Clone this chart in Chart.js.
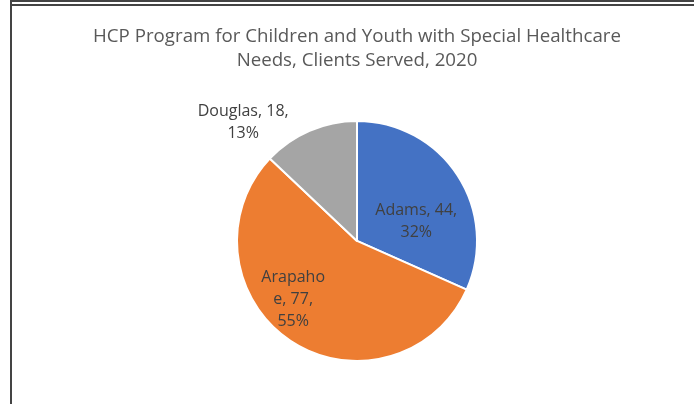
<!DOCTYPE html>
<html>
<head>
<meta charset="utf-8">
<script src="https://cdn.jsdelivr.net/npm/chart.js@4/dist/chart.umd.min.js"></script>
<style>
  html, body { margin: 0; padding: 0; background: #fff; }
  #wrap { position: relative; width: 694px; height: 404px; overflow: hidden; }
  #myChart { position: absolute; left: 0; top: 0; }
  .rule { position: absolute; background: #444; }
</style>
</head>
<body>
<div id="wrap">
  <canvas id="myChart" width="694" height="404"></canvas>
  <div class="rule" style="left:10px; top:0; width:684px; height:2px;"></div>
  <div class="rule" style="left:10px; top:4px; width:684px; height:2px;"></div>
  <div class="rule" style="left:10px; top:0; width:2px; height:404px;"></div>
</div>
<script>
const counties = ['Adams', 'Arapahoe', 'Douglas'];
const clients = [44, 77, 18];
const sliceColors = ['#4472C4', '#ED7D31', '#A5A5A5'];

// where each label sits: fraction along the slice's angle, and distance as a share of the radius
const labelAlong = [0.63, 0.57, 0.06];
const labelRadius = [0.52, 0.72, 1.37];
const labelWrap = [100, 68, 100];

const total = clients.reduce((a, b) => a + b, 0);

function wrapText(ctx, text, maxWidth) {
  const words = text.split(' ');
  const lines = [];
  let line = '';
  for (let w of words) {
    const tryLine = line ? line + ' ' + w : w;
    if (ctx.measureText(tryLine).width <= maxWidth) {
      line = tryLine;
      continue;
    }
    if (line) { lines.push(line); line = ''; }
    // break a word that is too long on its own
    while (ctx.measureText(w).width > maxWidth) {
      let i = w.length - 1;
      while (i > 1 && ctx.measureText(w.slice(0, i)).width > maxWidth) i--;
      lines.push(w.slice(0, i));
      w = w.slice(i);
    }
    line = w;
  }
  if (line) lines.push(line);
  return lines;
}

const sliceLabels = {
  id: 'sliceLabels',
  afterDatasetsDraw(chart) {
    const ctx = chart.ctx;
    const meta = chart.getDatasetMeta(0);
    ctx.save();
    ctx.font = '16px "Open Sans"';
    ctx.fillStyle = '#404040';
    ctx.textAlign = 'center';
    ctx.textBaseline = 'middle';
    const lineH = 22;
    meta.data.forEach((arc, i) => {
      const p = arc.getProps(['x', 'y', 'startAngle', 'endAngle', 'outerRadius'], true);
      const a = p.startAngle + labelAlong[i] * (p.endAngle - p.startAngle);
      const r = p.outerRadius * labelRadius[i];
      const cx = p.x + Math.cos(a) * r;
      const cy = p.y + Math.sin(a) * r;
      const pct = Math.round(clients[i] / total * 100);
      const text = counties[i] + ', ' + clients[i] + ', ' + pct + '%';
      const lines = wrapText(ctx, text, labelWrap[i]);
      const top = cy - (lines.length - 1) * lineH / 2;
      lines.forEach((ln, j) => ctx.fillText(ln, cx, top + j * lineH));
    });
    ctx.restore();
  }
};

Chart.defaults.font.family = '"Open Sans", sans-serif';

const config = {
  type: 'pie',
  data: {
    labels: counties,
    datasets: [{
      data: clients,
      backgroundColor: sliceColors,
      borderColor: '#ffffff',
      borderWidth: 2
    }]
  },
  options: {
    responsive: false,
    animation: false,
    radius: 120,
    layout: { padding: { left: 20, right: 0, top: 0, bottom: 5 } },
    plugins: {
      legend: { display: false },
      tooltip: { enabled: false },
      title: {
        display: true,
        text: ['HCP Program for Children and Youth with Special Healthcare', 'Needs, Clients Served, 2020'],
        color: '#595959',
        font: { size: 18.7, weight: 'normal', lineHeight: 1.28 },
        padding: { top: 25, bottom: 10 }
      }
    }
  },
  plugins: [sliceLabels]
};

var myChart = new Chart(document.getElementById('myChart'), config);
</script>
</body>
</html>
